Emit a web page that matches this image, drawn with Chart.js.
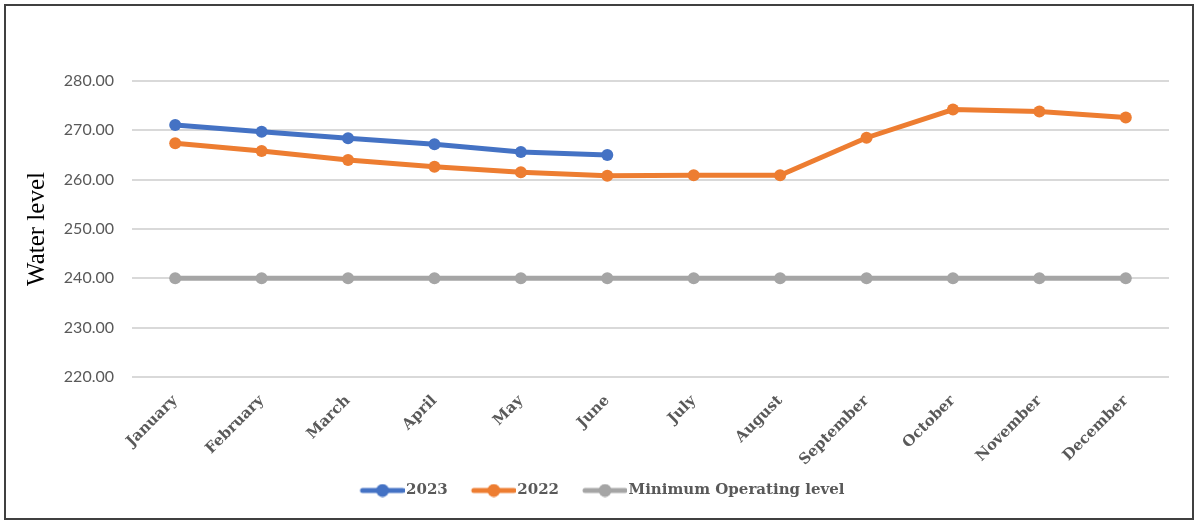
<!DOCTYPE html>
<html>
<head>
<meta charset="utf-8">
<script src="https://cdn.jsdelivr.net/npm/chart.js@4.4.1/dist/chart.umd.min.js"></script>
<style>
  html, body { margin: 0; padding: 0; background: #ffffff; }
  #wrap { position: absolute; left: 0; top: 0; width: 1196px; height: 521px; }
  #frame { position: absolute; left: 4px; top: 4px; width: 1190px; height: 516px; box-sizing: border-box; border: 2px solid #404040; pointer-events: none; }
  canvas { position: absolute; left: 0; top: 0; }
</style>
</head>
<body>
<div id="wrap">
  <canvas id="c" width="1196" height="521"></canvas>
  <div id="frame"></div>
</div>
<script>
const months = ["January","February","March","April","May","June","July","August","September","October","November","December"];
const levels2023 = [271.1, 269.7, 268.4, 267.2, 265.6, 265.0, null, null, null, null, null, null];
const levels2022 = [267.4, 265.8, 264.0, 262.6, 261.5, 260.8, 260.9, 260.9, 268.5, 274.2, 273.8, 272.6];
const minOperating = [240, 240, 240, 240, 240, 240, 240, 240, 240, 240, 240, 240];
const yTicks = [220, 230, 240, 250, 260, 270, 280];
const seriesNames = ["2023", "2022", "Minimum Operating level"];
const seriesColors = ["#4472C4", "#ED7D31", "#A5A5A5"];

function legendSymbol(color) {
  const cv = document.createElement('canvas');
  cv.width = 50; cv.height = 14;
  const g = cv.getContext('2d');
  g.strokeStyle = color; g.lineWidth = 5; g.lineCap = 'round';
  g.beginPath(); g.moveTo(8, 7); g.lineTo(48, 7); g.stroke();
  g.fillStyle = color;
  g.beginPath(); g.arc(28, 7, 6.5, 0, Math.PI * 2); g.fill();
  return cv;
}

const symbols = seriesColors.map(legendSymbol);

function ds(label, data, color) {
  return {
    label: label,
    data: data,
    borderColor: color,
    backgroundColor: color,
    borderWidth: 5,
    pointRadius: 6,
    pointHoverRadius: 6,
    pointBorderWidth: 0,
    pointBackgroundColor: color,
    tension: 0,
    spanGaps: false
  };
}

const legendShift = {
  id: 'legendShift',
  afterLayout(chart) {
    const lg = chart.legend;
    if (lg) { lg.left += 8; lg.right += 8; lg.top -= 10; lg.bottom -= 10; }
  }
};

new Chart(document.getElementById('c'), {
  type: 'line',
  data: {
    labels: months,
    datasets: [
      ds(seriesNames[0], levels2023, seriesColors[0]),
      ds(seriesNames[1], levels2022, seriesColors[1]),
      ds(seriesNames[2], minOperating, seriesColors[2])
    ]
  },
  plugins: [legendShift],
  options: {
    responsive: false,
    devicePixelRatio: 1,
    animation: false,
    layout: { padding: { left: 20, right: 27, top: 81, bottom: 3 } },
    plugins: {
      tooltip: { enabled: false },
      legend: {
        position: 'bottom',
        labels: {
          usePointStyle: true,
          pointStyleWidth: 38,
          padding: 24,
          color: '#595959',
          font: { family: 'DejaVu Serif', weight: 'bold', size: 15 },
          generateLabels: function(chart) {
            const items = Chart.defaults.plugins.legend.labels.generateLabels(chart);
            items.forEach((it, i) => { it.pointStyle = symbols[i]; });
            return items;
          }
        }
      }
    },
    scales: {
      x: {
        offset: true,
        grid: { display: false },
        border: { display: false },
        ticks: {
          minRotation: 45,
          maxRotation: 45,
          padding: 7,
          color: '#595959',
          font: { family: 'DejaVu Serif', weight: 'bold', size: 15 }
        },
        afterFit: function(s) { s.height = 92; }
      },
      y: {
        min: yTicks[0],
        max: yTicks[yTicks.length - 1],
        afterBuildTicks: function(s) { s.ticks = yTicks.map(v => ({ value: v })); },
        grid: { color: '#d9d9d9', lineWidth: 2, drawTicks: false },
        border: { display: false },
        ticks: {
          padding: 18,
          color: '#595959',
          font: { family: 'Lato', size: 16 },
          callback: function(v) { return Number(v).toFixed(2); }
        },
        title: {
          display: true,
          text: 'Water level',
          color: '#000000',
          font: { family: 'Liberation Serif', size: 25 },
          padding: { top: 2, bottom: 2 }
        },
        afterFit: function(s) { s.width = 112; }
      }
    }
  }
});
</script>
</body>
</html>
